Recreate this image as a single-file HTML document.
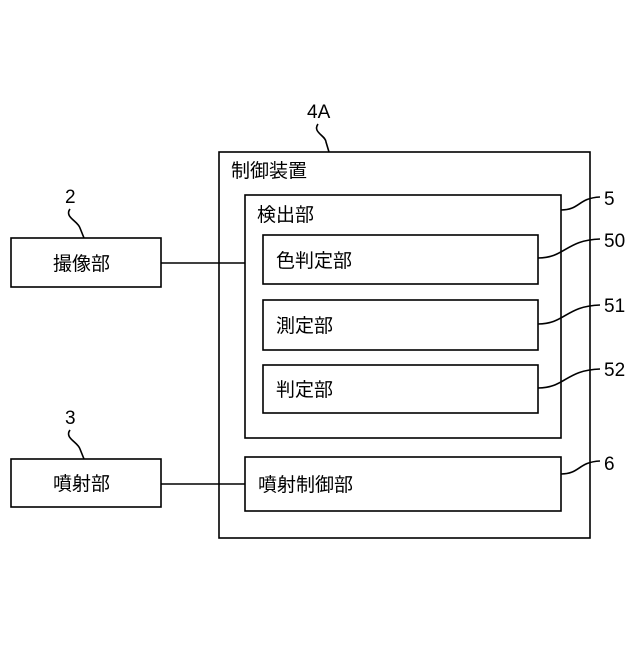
<!DOCTYPE html>
<html><head><meta charset="utf-8"><style>
body{margin:0;background:#fff}
svg text{font-family:"Liberation Sans","Noto Sans CJK JP",sans-serif;fill:#000}
</style></head><body>
<svg width="640" height="640" viewBox="0 0 640 640" xmlns="http://www.w3.org/2000/svg">
<g fill="none" stroke="#000" stroke-width="1.6">
<rect x="219" y="152" width="371" height="386"/>
<rect x="245" y="195" width="316" height="243"/>
<rect x="263" y="235" width="275" height="49"/>
<rect x="263" y="300" width="275" height="50"/>
<rect x="263" y="365" width="275" height="48"/>
<rect x="245" y="457" width="316" height="54"/>
<rect x="11" y="238" width="150" height="49"/>
<rect x="11" y="459" width="150" height="48"/>
<line x1="161" y1="263" x2="245" y2="263"/>
<line x1="161" y1="484" x2="245" y2="484"/>
<path d="M318 124 C312 132,326 136,326 142 L329 152"/>
<path d="M561 210 C580 210,578 198,600 197"/>
<path d="M538 258 C565 258,566 240,600 239"/>
<path d="M538 324 C565 324,566 306,600 305"/>
<path d="M538 388 C565 388,566 370,600 369"/>
<path d="M561 474 C580 474,578 462,600 461"/>
<path d="M70 209 C64 217,78 221,80 228 L84 238"/>
<path d="M70 430 C64 438,78 442,80 449 L84 459"/>
</g>
<g font-size="19">
<text x="307" y="118">4A</text>
<text x="604" y="205">5</text>
<text x="604" y="247">50</text>
<text x="604" y="312">51</text>
<text x="604" y="376">52</text>
<text x="604" y="470">6</text>
<text x="65" y="203">2</text>
<text x="65" y="424">3</text>
</g>
<g font-size="19">
<text x="231" y="177">制御装置</text>
<text x="257" y="221">検出部</text>
<text x="276" y="267">色判定部</text>
<text x="276" y="332">測定部</text>
<text x="276" y="396">判定部</text>
<text x="258" y="491">噴射制御部</text>
<text x="53" y="270">撮像部</text>
<text x="53" y="490">噴射部</text>
</g>
</svg>
</body></html>
